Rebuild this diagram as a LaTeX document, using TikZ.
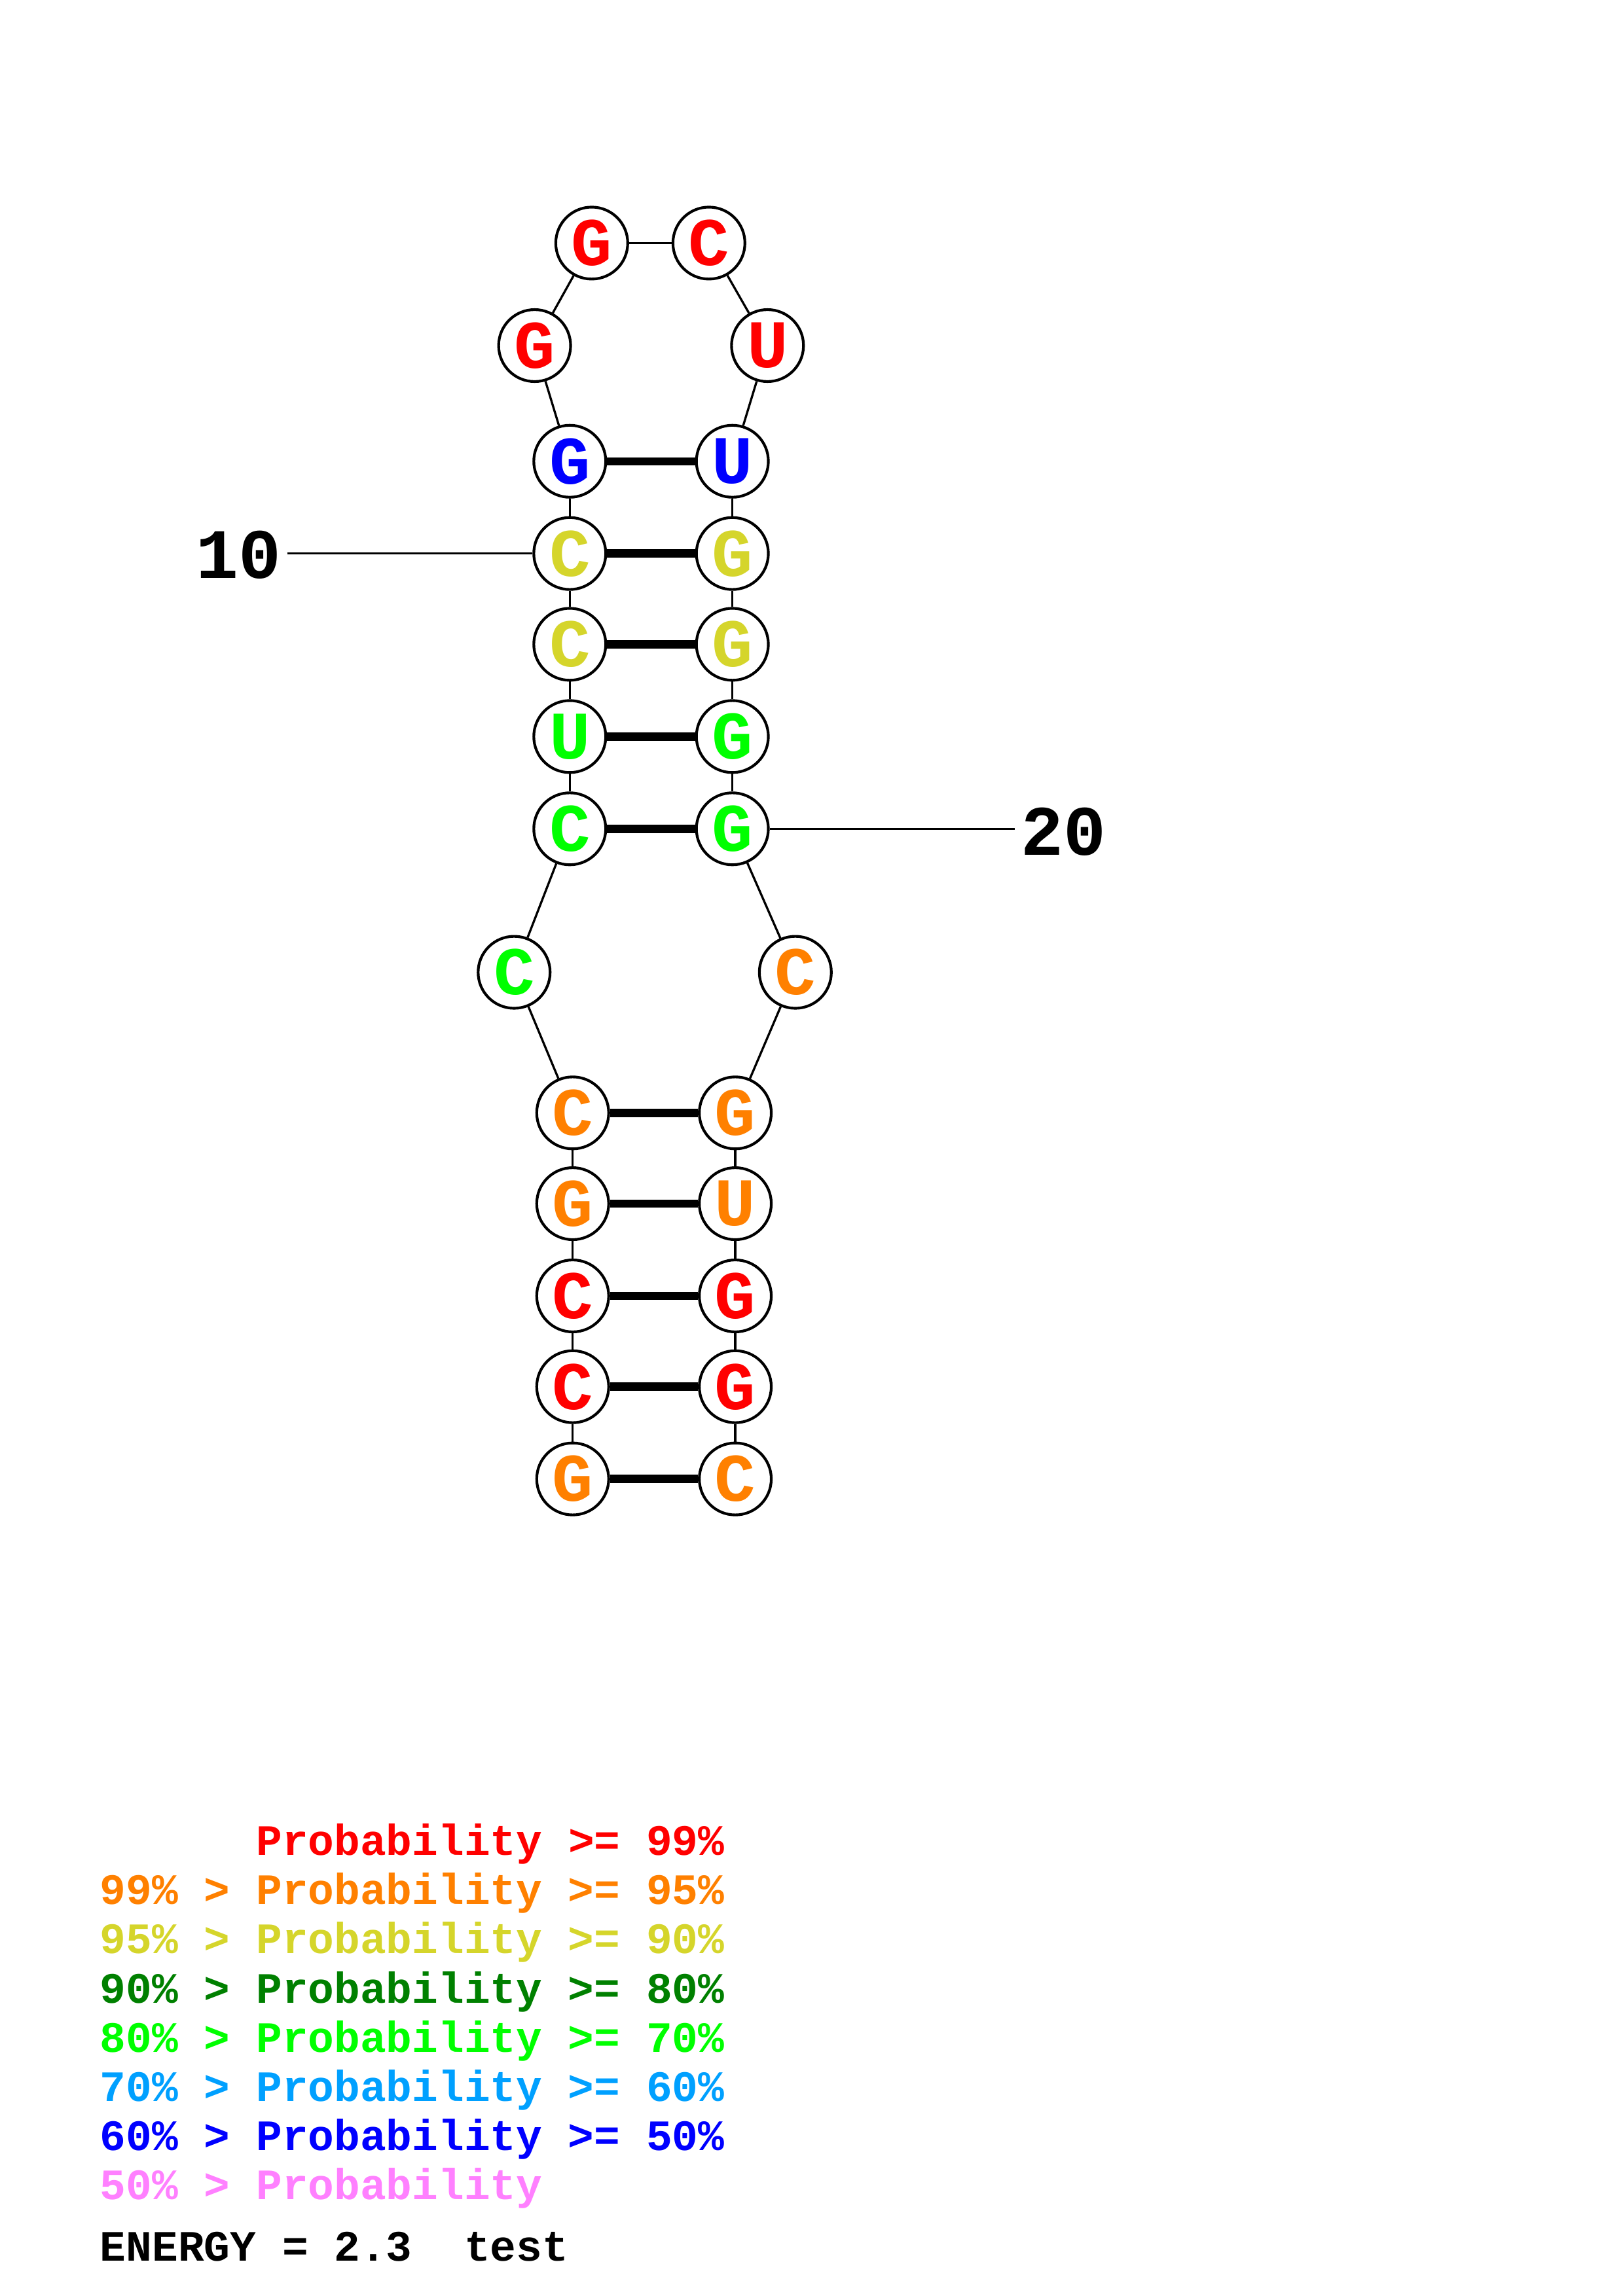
\documentclass[tikz,border=0pt]{standalone}
\usepackage{fontspec}
\newfontfamily\cour{Liberation Mono}
\definecolor{cred}{RGB}{255,0,0}
\definecolor{corange}{RGB}{255,128,0}
\definecolor{cyellow}{RGB}{213,213,43}
\definecolor{cdgreen}{RGB}{0,128,0}
\definecolor{cgreen}{RGB}{0,255,0}
\definecolor{clblue}{RGB}{0,160,255}
\definecolor{cblue}{RGB}{0,0,255}
\definecolor{cpink}{RGB}{255,128,255}
\begin{document}
\begin{tikzpicture}[x=0.5373pt,y=-0.5373pt,
  nt/.style={circle,draw,line width=1pt,fill=white,minimum size=26.4pt,inner sep=0pt,
    font=\cour\bfseries\fontsize{25}{25}\selectfont},
  bb/.style={line width=0.8pt},
  bp/.style={line width=3pt},
  lab/.style={inner sep=2pt,font=\cour\bfseries\fontsize{26}{26}\selectfont},
  leg/.style={anchor=base west,inner sep=0pt,font=\cour\bfseries\fontsize{15.9}{15.9}\selectfont}]
\useasboundingbox (0,0) rectangle (1108,1568);
% nucleotides
\node[nt,text=corange] (n1) at (391,1010) {G};
\node[nt,text=cred] (n2) at (391,947) {C};
\node[nt,text=cred] (n3) at (391,885) {C};
\node[nt,text=corange] (n4) at (391,822) {G};
\node[nt,text=corange] (n5) at (391,760) {C};
\node[nt,text=cgreen] (n6) at (351,664) {C};
\node[nt,text=cgreen] (n7) at (389,566) {C};
\node[nt,text=cgreen] (n8) at (389,503) {U};
\node[nt,text=cyellow] (n9) at (389,440) {C};
\node[nt,text=cyellow] (n10) at (389,378) {C};
\node[nt,text=cblue] (n11) at (389,315) {G};
\node[nt,text=cred] (n12) at (365,236) {G};
\node[nt,text=cred] (n13) at (404,166) {G};
\node[nt,text=cred] (n14) at (484,166) {C};
\node[nt,text=cred] (n15) at (524,236) {U};
\node[nt,text=cblue] (n16) at (500,315) {U};
\node[nt,text=cyellow] (n17) at (500,378) {G};
\node[nt,text=cyellow] (n18) at (500,440) {G};
\node[nt,text=cgreen] (n19) at (500,503) {G};
\node[nt,text=cgreen] (n20) at (500,566) {G};
\node[nt,text=corange] (n21) at (543,664) {C};
\node[nt,text=corange] (n22) at (502,760) {G};
\node[nt,text=corange] (n23) at (502,822) {U};
\node[nt,text=cred] (n24) at (502,885) {G};
\node[nt,text=cred] (n25) at (502,947) {G};
\node[nt,text=corange] (n26) at (502,1010) {C};
% backbone
\foreach \a/\b in {1/2,2/3,3/4,4/5,5/6,6/7,7/8,8/9,9/10,10/11,11/12,12/13,13/14,14/15,15/16,16/17,17/18,18/19,19/20,20/21,21/22,22/23,23/24,24/25,25/26}
  \draw[bb] (n\a) -- (n\b);
% pairs
\foreach \a/\b in {1/26,2/25,3/24,4/23,5/22,7/20,8/19,9/18,10/17,11/16}
  \draw[bp] (n\a) -- (n\b);
% position labels
\node[lab,anchor=east] (l10) at (196,379) {10};
\draw[bb] (l10.east |- n10) -- (n10);
\node[lab,anchor=west] (l20) at (693,568) {20};
\draw[bb] (n20) -- (l20.west |- n20);
% legend
\node[leg,text=cred] (g1) at (68,1267) {\phantom{99\% > }Probability >= 99\%};
\node[leg,text=corange] (g2) at (68,1300.6) {99\% > Probability >= 95\%};
\node[leg,text=cyellow] (g3) at (68,1334.2) {95\% > Probability >= 90\%};
\node[leg,text=cdgreen] (g4) at (68,1367.8) {90\% > Probability >= 80\%};
\node[leg,text=cgreen] (g5) at (68,1401.4) {80\% > Probability >= 70\%};
\node[leg,text=clblue] (g6) at (68,1435) {70\% > Probability >= 60\%};
\node[leg,text=cblue] (g7) at (68,1468.6) {60\% > Probability >= 50\%};
\node[leg,text=cpink] (g8) at (68,1502.2) {50\% > Probability};
\node[leg,text=black] (en) at (68,1544) {ENERGY = 2.3\ \ test};
\end{tikzpicture}
\end{document}
